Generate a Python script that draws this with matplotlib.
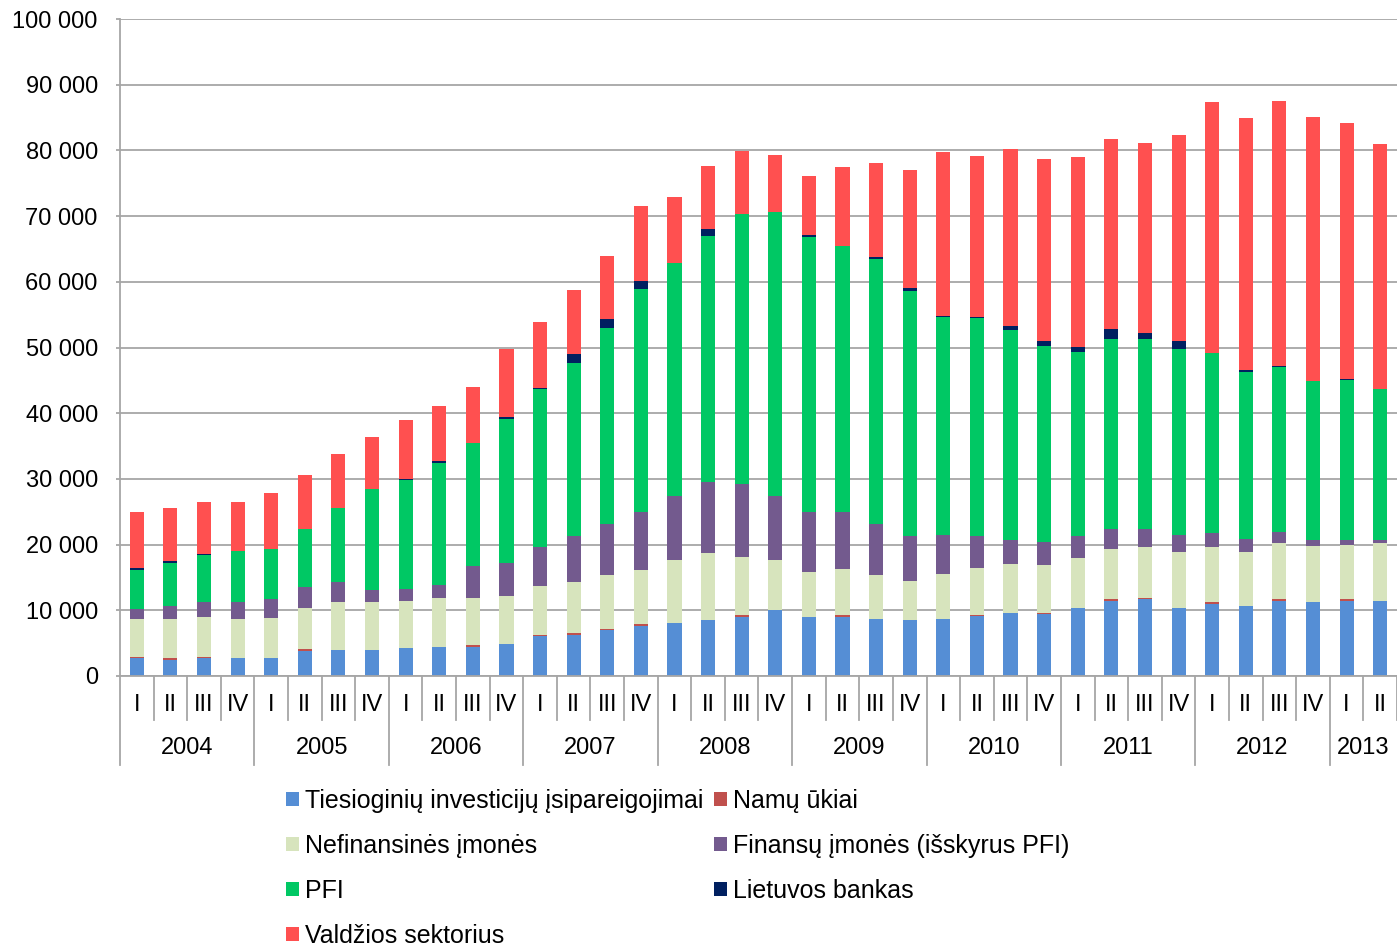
import matplotlib
matplotlib.use("Agg")
import matplotlib.pyplot as plt
from matplotlib.patches import Patch
from matplotlib.ticker import FuncFormatter
import matplotlib.transforms as mtransforms

plt.rcParams['font.family'] = ['Liberation Sans', 'DejaVu Sans']

# Data (mln. Lt), 2004 I - 2013 II
years = ['2004', '2005', '2006', '2007', '2008', '2009', '2010', '2011', '2012', '2013']
quarters = ['I', 'II', 'III', 'IV'] * 9 + ['I', 'II']

tiesiogines = [2690, 2480, 2690, 2690, 2690, 3800, 4000, 4000, 4210, 4460, 4460, 4870,
               6050, 6310, 6970, 7640, 8050, 8510, 8970, 10000, 8970, 8970, 8720, 8510,
               8600, 9080, 9660, 9430, 10310, 11430, 11670, 10310, 10960, 10730, 11430, 11200,
               11430, 11430]
namu_ukiai = [250, 260, 250, 0, 0, 260, 0, 0, 0, 0, 260, 0,
              260, 250, 210, 210, 0, 0, 260, 0, 0, 260, 0, 0,
              0, 170, 0, 230, 0, 240, 230, 0, 240, 0, 240, 0,
              240, 0]
nefinansines = [5680, 5880, 6080, 5930, 6080, 6280, 7200, 7200, 7250, 7450, 7190, 7250,
                7330, 7700, 8200, 8250, 9590, 10210, 8870, 7640, 6880, 7080, 6660, 6000,
                6960, 7250, 7430, 7250, 7660, 7660, 7660, 8550, 8360, 8130, 8540, 8540,
                8310, 8780]
finansu = [1520, 2030, 2240, 2640, 2890, 3150, 3150, 1830, 1770, 1980, 4870, 5070,
           6000, 7120, 7800, 8930, 9800, 10770, 11130, 9800, 9180, 8720, 7800, 6870,
           5950, 4830, 3590, 3480, 3360, 3060, 2830, 2650, 2190, 2000, 1770, 890,
           650, 420]
pfi = [5980, 6590, 7090, 7700, 7710, 8820, 11250, 15410, 16580, 18560, 18660, 22000,
       24000, 26310, 29840, 33940, 35380, 37530, 41130, 43170, 41790, 40460, 40360, 37180,
       33120, 33120, 32000, 29820, 27990, 28940, 28940, 28290, 27400, 25460, 24990, 24280,
       24390, 23040]
lietuvos_bankas = [260, 200, 210, 0, 0, 0, 0, 0, 150, 200, 0, 260,
                   260, 1330, 1340, 1130, 0, 980, 0, 0, 250, 0, 250, 460,
                   230, 240, 650, 710, 710, 1410, 880, 1120, 0, 180, 170, 0,
                   240, 0]
valdzios = [8510, 8110, 7910, 7510, 8410, 8310, 8120, 7910, 9030, 8520, 8620, 10390,
            10000, 9800, 9590, 11390, 10100, 9600, 9540, 8690, 9030, 12010, 14310, 17980,
            24930, 24450, 26870, 27810, 28940, 29060, 28940, 31350, 38180, 38360, 40370, 40190,
            38950, 37300]

series = [
    (tiesiogines, '#558ED5', 'Tiesioginių investicijų įsipareigojimai'),
    (namu_ukiai, '#C0504D', 'Namų ūkiai'),
    (nefinansines, '#D7E4BD', 'Nefinansinės įmonės'),
    (finansu, '#735A8E', 'Finansų įmonės (išskyrus PFI)'),
    (pfi, '#00C864', 'PFI'),
    (lietuvos_bankas, '#002060', 'Lietuvos bankas'),
    (valdzios, '#FF5050', 'Valdžios sektorius'),
]

n = len(quarters)
x = [i + 0.5 for i in range(n)]

fig = plt.figure(figsize=(13.97, 9.51), dpi=100)
ax = fig.add_axes([120 / 1397, 1 - 676 / 951, 1 - 120 / 1397, (676 - 19) / 951])

bottom = [0] * n
for vals, color, label in series:
    ax.bar(x, vals, width=0.42, bottom=bottom, color=color, linewidth=0)
    bottom = [b + v for b, v in zip(bottom, vals)]

ax.set_xlim(0, n)
ax.set_ylim(0, 100000)
ax.set_yticks(range(0, 100001, 10000))
ax.yaxis.set_major_formatter(FuncFormatter(lambda v, p: f"{int(v):,}".replace(',', ' ')))
ax.grid(axis='y', color='#A6A6A6', linewidth=1.3)
ax.set_axisbelow(True)
for s in ['top', 'right']:
    ax.spines[s].set_visible(False)
ax.spines['left'].set_color('#A6A6A6')
ax.spines['bottom'].set_color('#A6A6A6')
ax.spines['left'].set_linewidth(1.3)
ax.spines['bottom'].set_linewidth(1.3)
ax.tick_params(axis='y', length=3, width=1.3, color='#A6A6A6', pad=13, labelsize=17)
ax.set_xticks([])

# category axis: quarter labels, year labels and separators
trans = mtransforms.blended_transform_factory(ax.transData, ax.transAxes)
for i, q in enumerate(quarters):
    ax.text(x[i], -0.044, q, transform=trans, ha='center', va='center', fontsize=17)
for k in range(n + 1):
    y_end = -0.135 if k % 4 == 0 else -0.067
    ax.plot([k, k], [0, y_end], transform=trans, color='#A6A6A6', linewidth=1.3, clip_on=False)
for j, yr in enumerate(years):
    start = j * 4
    end = min(start + 4, n)
    ax.text((start + end) / 2, -0.110, yr, transform=trans, ha='center', va='center', fontsize=17)

handles = [Patch(facecolor=c, label=l) for _, c, l in series]
order = [0, 2, 4, 6, 1, 3, 5]
fig.legend([handles[i] for i in order], [handles[i].get_label() for i in order],
           loc='upper left', bbox_to_anchor=(286 / 1397, 1 - 789 / 951), ncol=2,
           frameon=False, fontsize=18, handlelength=0.5, handleheight=0.5,
           handletextpad=0.25, columnspacing=0.45, labelspacing=0.84, borderpad=0,
           borderaxespad=0)

fig.savefig('out.png', dpi=100)
